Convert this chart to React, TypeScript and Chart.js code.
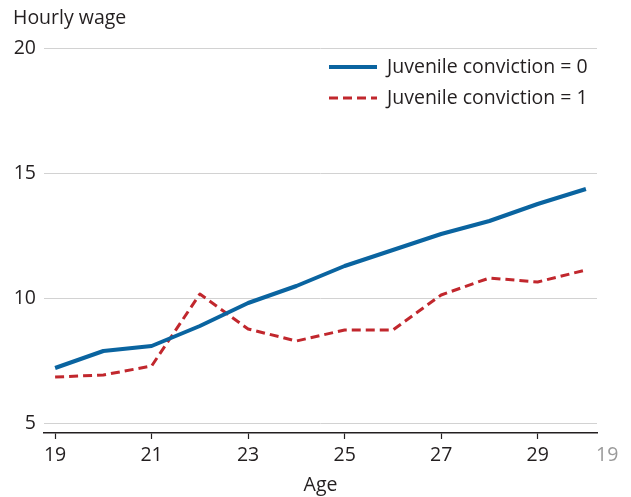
import React, { useEffect, useRef } from "react";
import { Chart, registerables } from "chart.js";

Chart.register(...registerables);

const ages = [19, 20, 21, 22, 23, 24, 25, 26, 27, 28, 29, 30];
const conviction0 = [7.2, 7.88, 8.08, 8.88, 9.8, 10.48, 11.28, 11.92, 12.56, 13.08, 13.76, 14.36];
const conviction1 = [6.84, 6.92, 7.28, 10.16, 8.76, 8.28, 8.72, 8.72, 10.12, 10.8, 10.64, 11.12];
const xTicks = [19, 21, 23, 25, 27, 29];
const yTicks = [5, 10, 15, 20];
const seriesNames = ["Juvenile conviction = 0", "Juvenile conviction = 1"];
const yTitle = "Hourly wage";
const xTitle = "Age";
const strayLabel = "19";

const FONT = "'Open Sans', sans-serif";
const FS = 19.5;
const TEXT = "#231f20";
const BLUE = "#0a64a0";
const RED = "#c1272d";

export default function App() {
  const ref = useRef<HTMLCanvasElement>(null);
  useEffect(() => {
    const canvas = ref.current!;
    const decor = {
      id: "decor",
      afterDraw(chart: any) {
        const ctx = chart.ctx;
        const area = chart.chartArea;
        ctx.save();
        ctx.fillStyle = TEXT;
        ctx.font = `${FS}px ${FONT}`;
        ctx.textBaseline = "middle";
        ctx.textAlign = "left";
        ctx.fillText(yTitle, 13, 18);
        ctx.textAlign = "center";
        ctx.fillText(xTitle, (area.left + area.right) / 2, 485);
        ctx.fillStyle = "#9a9a9a";
        ctx.textAlign = "left";
        ctx.fillText(strayLabel, 596, 455);
        // legend
        const items = chart.data.datasets;
        items.forEach((ds: any, i: number) => {
          const y = 67 + i * 31;
          ctx.strokeStyle = ds.borderColor;
          ctx.lineWidth = ds.borderWidth;
          ctx.setLineDash(ds.borderDash || []);
          ctx.beginPath();
          ctx.moveTo(329, y);
          ctx.lineTo(377, y);
          ctx.stroke();
          ctx.setLineDash([]);
          ctx.fillStyle = TEXT;
          ctx.font = `${FS}px ${FONT}`;
          ctx.textAlign = "left";
          ctx.fillText(ds.label, 387, y);
        });
        ctx.restore();
      },
    };
    const chart = new Chart(canvas, {
      type: "line",
      data: {
        datasets: [
          {
            label: seriesNames[0],
            data: ages.map((a, i) => ({ x: a, y: conviction0[i] })),
            borderColor: BLUE,
            borderWidth: 4,
            pointRadius: 0,
            tension: 0,
            borderJoinStyle: "round",
          },
          {
            label: seriesNames[1],
            data: ages.map((a, i) => ({ x: a, y: conviction1[i] })),
            borderColor: RED,
            borderWidth: 3,
            borderDash: [9, 5],
            pointRadius: 0,
            tension: 0,
            borderJoinStyle: "round",
          },
        ],
      },
      options: {
        animation: false,
        responsive: false,
        layout: { padding: { left: 0, top: 48, right: 34, bottom: 0 } },
        plugins: { legend: { display: false }, tooltip: { enabled: false } },
        scales: {
          x: {
            type: "linear",
            min: 18.77,
            max: 30.23,
            afterBuildTicks: (s: any) => {
              s.ticks = xTicks.map((v) => ({ value: v }));
            },
            afterFit: (s: any) => {
              s.height = 64;
            },
            grid: { drawOnChartArea: false, drawTicks: true, tickLength: 6, tickColor: "#231f20", tickWidth: 1.2 },
            border: { display: true, color: "#231f20", width: 1.5 },
            ticks: { color: TEXT, font: { family: FONT, size: FS }, padding: 5, maxRotation: 0, autoSkip: false },
          },
          y: {
            min: 4.6,
            max: 20,
            afterBuildTicks: (s: any) => {
              s.ticks = yTicks.map((v) => ({ value: v }));
            },
            afterFit: (s: any) => {
              s.width = 44;
            },
            grid: { color: "#d2d2d2", lineWidth: 1, drawTicks: false },
            border: { display: false },
            ticks: { color: TEXT, font: { family: FONT, size: FS }, padding: 8 },
          },
        },
      },
      plugins: [decor],
    } as any);
    return () => chart.destroy();
  }, []);
  return (
    <div style={{ position: "absolute", left: 0, top: 0, width: 631, height: 497, background: "#fff" }}>
      <canvas ref={ref} width={631} height={497} />
    </div>
  );
}
